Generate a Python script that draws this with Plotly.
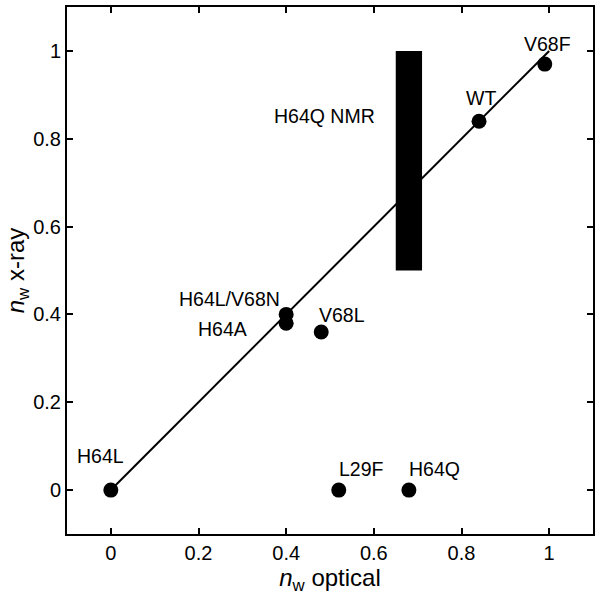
import plotly.graph_objects as go

# Data
names = ["H64L", "H64A", "H64L/V68N", "V68L", "L29F", "H64Q", "WT", "V68F"]
optical = [0.0, 0.40, 0.40, 0.48, 0.52, 0.68, 0.84, 0.99]
xray = [0.0, 0.38, 0.40, 0.36, 0.0, 0.0, 0.84, 0.97]
fit_x = [0.0, 1.0]
fit_y = [0.0, 1.0]
nmr_x = [0.65, 0.71]
nmr_y = [0.5, 1.0]
nmr_label = "H64Q NMR"
tick_vals = [0, 0.2, 0.4, 0.6, 0.8, 1]
tick_text = ["0", "0.2", "0.4", "0.6", "0.8", "1"]

# label offsets in pixels (xshift, yshift, xanchor)
label_style = {
    "H64L": (-10, 34, "center"),
    "H64A": (-37, -6, "right"),
    "H64L/V68N": (-4, 15, "right"),
    "V68L": (-4, 17, "left"),
    "L29F": (23, 21, "center"),
    "H64Q": (26, 21, "center"),
    "WT": (2, 23, "center"),
    "V68F": (3, 20, "center"),
}

FONT = "Liberation Sans, Arial, sans-serif"

fig = go.Figure()
fig.add_trace(go.Scatter(x=fit_x, y=fit_y, mode="lines",
                         line=dict(color="black", width=2), showlegend=False,
                         hoverinfo="skip"))
fig.add_trace(go.Scatter(x=optical, y=xray, mode="markers",
                         marker=dict(color="black", size=15), showlegend=False,
                         text=names))

fig.add_shape(type="rect", xref="x", yref="y", x0=nmr_x[0], x1=nmr_x[1],
              y0=nmr_y[0], y1=nmr_y[1], fillcolor="black", line=dict(width=0))

for n, xv, yv in zip(names, optical, xray):
    xs, ys, xa = label_style[n]
    fig.add_annotation(x=xv, y=yv, text=n, showarrow=False, xanchor=xa,
                       yanchor="middle", xshift=xs, yshift=ys,
                       font=dict(size=19.5, color="black", family=FONT))

fig.add_annotation(x=nmr_x[0], y=0.852, text=nmr_label, showarrow=False,
                   xanchor="right", yanchor="middle", xshift=-19,
                   font=dict(size=19.5, color="black", family=FONT))

axis_common = dict(
    showgrid=False, zeroline=False, showline=True, linecolor="black",
    linewidth=2, mirror="ticks", ticks="inside", ticklen=6, tickwidth=1.5,
    tickcolor="black", tickvals=tick_vals, ticktext=tick_text,
    tickfont=dict(size=20, color="black", family=FONT), automargin=False,
)

fig.update_xaxes(range=[-0.1, 1.1], **axis_common,
                 title=dict(text="<i>n</i><sub>w</sub> optical",
                            font=dict(size=24, color="black", family=FONT),
                            standoff=6))
fig.update_yaxes(range=[-0.1, 1.1], **axis_common,
                 title=dict(text="<i>n</i><sub>w</sub> x-ray",
                            font=dict(size=24, color="black", family=FONT),
                            standoff=2))

fig.update_layout(width=602, height=610,
                  margin=dict(l=67, r=9, t=7, b=76),
                  plot_bgcolor="white", paper_bgcolor="white",
                  font=dict(family=FONT, color="black"))

fig.write_html("out.html", config={"displayModeBar": False},
               post_script="document.body.style.margin='0px';document.body.style.overflow='hidden';")
